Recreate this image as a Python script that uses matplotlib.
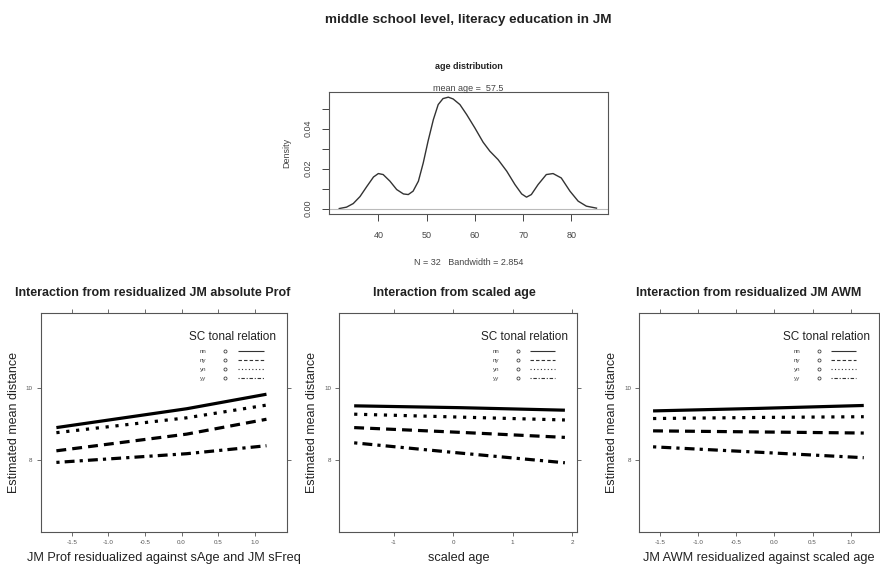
import numpy as np
import matplotlib.pyplot as plt
from matplotlib.lines import Line2D

plt.rcParams['font.family'] = ['Liberation Sans', 'DejaVu Sans']

# age density curve
age_x = [31.9, 33.4, 34.8, 36.2, 37.6, 39.0, 40.0, 41.0, 42.4, 43.8, 45.2, 46.2,
         47.2, 48.3, 49.3, 50.3, 51.4, 52.4, 53.4, 54.5, 55.5, 56.9, 58.3, 60.0,
         61.7, 63.1, 64.8, 66.6, 68.3, 69.7, 70.7, 71.7, 73.1, 74.8, 76.2, 77.9,
         79.7, 81.4, 83.1, 85.2]
age_dens = [0.0, 0.0007, 0.0025, 0.006, 0.011, 0.0158, 0.0175, 0.017, 0.0137, 0.0095,
            0.0073, 0.007, 0.0087, 0.0137, 0.0228, 0.0337, 0.0445, 0.052, 0.055, 0.0557,
            0.0548, 0.052, 0.047, 0.0403, 0.0332, 0.0287, 0.0245, 0.0187, 0.012, 0.0073,
            0.0057, 0.007, 0.012, 0.017, 0.0175, 0.0153, 0.0087, 0.0037, 0.0012, 0.0002]

groups = ['nn', 'ny', 'yn', 'yy']

# panel 1: JM Prof residualized
p1_x = [-1.71, 0.07, 1.16]
p1_y = {'nn': [8.90, 9.42, 9.82],
        'ny': [8.26, 8.72, 9.13],
        'yn': [8.76, 9.17, 9.52],
        'yy': [7.94, 8.18, 8.40]}
# panel 2: scaled age
p2_x = [-1.67, 0.1, 1.88]
p2_y = {'nn': [9.50, 9.45, 9.38],
        'ny': [8.90, 8.77, 8.63],
        'yn': [9.27, 9.19, 9.11],
        'yy': [8.48, 8.20, 7.93]}
# panel 3: JM AWM residualized
p3_x = [-1.59, -0.2, 1.17]
p3_y = {'nn': [9.36, 9.43, 9.51],
        'ny': [8.81, 8.78, 8.75],
        'yn': [9.15, 9.18, 9.20],
        'yy': [8.37, 8.22, 8.07]}

styles = {'nn': (0, ()),
          'ny': (0, (3.1, 1.9)),
          'yn': (0, (1.0, 2.1)),
          'yy': (0, (1.0, 1.6, 3.1, 1.6))}

fig = plt.figure(figsize=(8.8, 5.66), dpi=100)
fig.text(0.532, 0.965, 'middle school level, literacy education in JM',
         ha='center', va='center', fontsize=9.7, fontweight='bold', color='#222222')

# --- density panel
ax = fig.add_axes([0.374, 0.622, 0.317, 0.2155])
ax.plot(age_x, age_dens, color='#333333', lw=1.0)
ax.axhline(0, color='#bbbbbb', lw=0.8)
ax.set_xlim(29.8, 87.6)
ax.set_ylim(-0.0027, 0.0583)
ax.set_xticks([40, 50, 60, 70, 80])
ax.set_yticks([0, 0.01, 0.02, 0.03, 0.04, 0.05])
ax.set_yticklabels(['0.00', '', '0.02', '', '0.04', ''], rotation=90, va='center')
ax.tick_params(labelsize=6.5, colors='#444444', length=5, width=0.7, direction='out')
ax.tick_params(axis='x', pad=7)
ax.tick_params(axis='y', pad=7)
for s in ax.spines.values():
    s.set_color('#555555')
    s.set_linewidth(0.8)
ax.set_ylabel('Density', fontsize=6.5, color='#444444', labelpad=9)
ax.set_xlabel('N = 32   Bandwidth = 2.854', fontsize=6.5, color='#444444', labelpad=13)
ax.text(0.5, 1.03, 'mean age =  57.5', transform=ax.transAxes, ha='center',
        va='center', fontsize=6.5, color='#444444')
ax.text(0.5, 1.205, 'age distribution', transform=ax.transAxes, ha='center',
        va='center', fontsize=6.5, fontweight='bold', color='#222222')

# --- interaction panels
panels = [
    ([0.0466, 0.060, 0.2795, 0.387], p1_x, p1_y, (-1.92, 1.44),
     [-1.5, -1.0, -0.5, 0.0, 0.5, 1.0],
     'Interaction from residualized JM absolute Prof',
     'JM Prof residualized against sAge and JM sFreq', 0.173),
    ([0.3856, 0.060, 0.2705, 0.387], p2_x, p2_y, (-1.92, 2.09),
     [-1, 0, 1, 2],
     'Interaction from scaled age', 'scaled age', 0.516),
    ([0.7265, 0.060, 0.2724, 0.387], p3_x, p3_y, (-1.77, 1.37),
     [-1.5, -1.0, -0.5, 0.0, 0.5, 1.0],
     'Interaction from residualized JM AWM',
     'JM AWM residualized against scaled age', 0.851),
]

for rect, xs, ys, xlim, xt, title, xlabel, tx in panels:
    ax = fig.add_axes(rect)
    for g in groups:
        ax.plot(xs, ys[g], color='black', lw=2.3, linestyle=styles[g],
                dash_capstyle='butt', solid_capstyle='butt')
    ax.set_xlim(*xlim)
    ax.set_ylim(6.02, 12.06)
    ax.set_xticks(xt)
    ax.set_xticklabels([f'{v:.1f}' if isinstance(v, float) else str(v) for v in xt])
    ax.set_yticks([8, 10])
    ax.tick_params(labelsize=4.5, colors='#555555', length=3, width=0.6,
                   direction='out', top=True, right=True, pad=3)
    for s in ax.spines.values():
        s.set_color('#555555')
        s.set_linewidth(0.8)
    ax.set_xlabel(xlabel, fontsize=9.2, color='#222222', labelpad=5)
    ax.set_ylabel('Estimated mean distance', fontsize=9, color='#222222', labelpad=4)
    fig.text(tx, 0.482, title, ha='center', va='center', fontsize=9,
             fontweight='bold', color='#222222')
    # legend
    ax.text(0.78, 0.89, 'SC tonal relation', transform=ax.transAxes, ha='center',
            va='center', fontsize=8.5, color='#222222')
    for i, g in enumerate(groups):
        yy = 0.826 - i * 0.041
        ax.text(0.645, yy, g, transform=ax.transAxes, ha='left', va='center',
                fontsize=4.5, color='#444444')
        ax.plot([0.75], [yy], transform=ax.transAxes, marker='o', ms=2.2,
                mfc='none', mec='#444444', mew=0.6, ls='none')
        ax.add_line(Line2D([0.80, 0.905], [yy, yy], transform=ax.transAxes,
                           color='#333333', lw=0.8, linestyle=styles[g]))

fig.savefig('out.png', dpi=100)
